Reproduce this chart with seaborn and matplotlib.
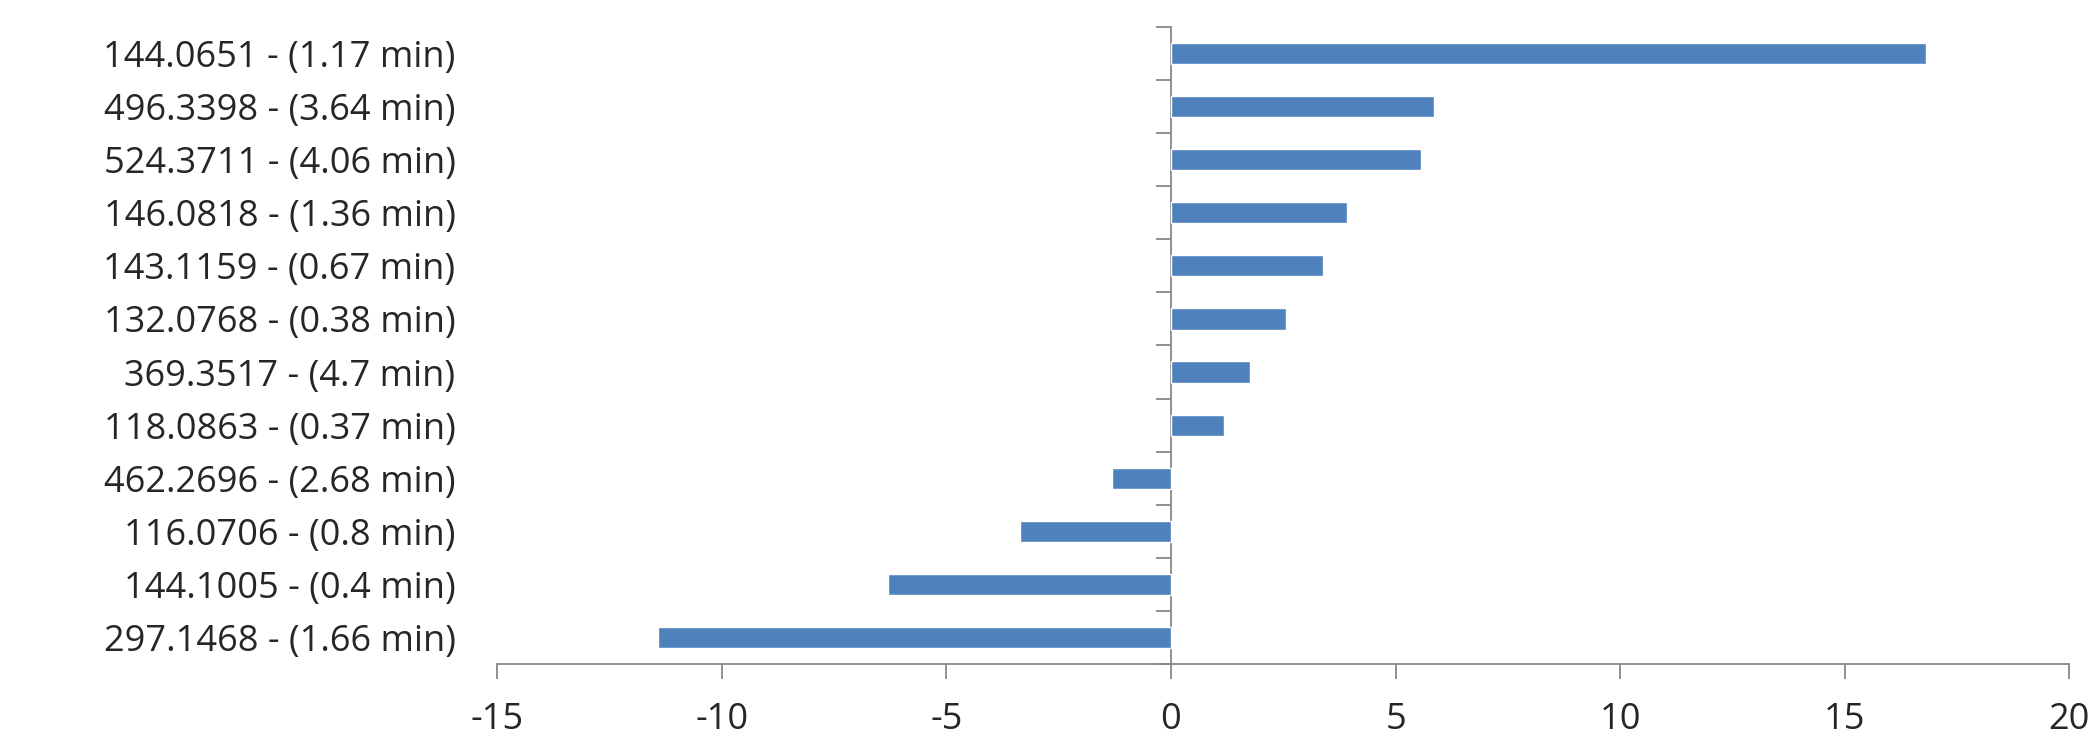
import numpy as np
import pandas as pd
import seaborn as sns
import matplotlib.pyplot as plt

LABELS = [
    "144.0651 - (1.17 min)",
    "496.3398 - (3.64 min)",
    "524.3711 - (4.06 min)",
    "146.0818 - (1.36 min)",
    "143.1159 - (0.67 min)",
    "132.0768 - (0.38 min)",
    "369.3517 - (4.7 min)",
    "118.0863 - (0.37 min)",
    "462.2696 - (2.68 min)",
    "116.0706 - (0.8 min)",
    "144.1005 - (0.4 min)",
    "297.1468 - (1.66 min)",
]
VALUES = [16.82, 5.86, 5.57, 3.93, 3.39, 2.56, 1.76, 1.19, -1.31, -3.36, -6.31, -11.43]
X_TICKS = [-15, -10, -5, 0, 5, 10, 15, 20]

sns.set_style("white")
plt.rcParams["font.family"] = ["Open Sans", "DejaVu Sans"]

df = pd.DataFrame({"label": LABELS, "value": VALUES})

W, H = 1568, 553
fig = plt.figure(figsize=(20.96, 7.39), dpi=100)
ax = fig.add_axes([372 / W, 1 - 497 / H, 1176 / W, 477 / H])
sns.barplot(data=df, x="value", y="label", orient="h", color="#4f81bd",
            width=0.4, saturation=1, ax=ax)

ax.set_xlim(X_TICKS[0], X_TICKS[-1])
ax.set_ylim(len(LABELS) - 0.5, -0.5)
ax.set_xticks(X_TICKS)
ax.set_xticklabels([str(t) for t in X_TICKS], fontsize=26)
ax.set_xlabel("")
ax.set_ylabel("")
ax.tick_params(axis="y", length=0, labelsize=26, pad=30)
ax.tick_params(axis="x", direction="out", length=11, width=1.3, color="#888888", bottom=True, pad=16)
for s in ["top", "right", "left"]:
    ax.spines[s].set_visible(False)
ax.spines["bottom"].set_color("#888888")
ax.spines["bottom"].set_linewidth(1.3)

# category axis crossing at x = 0
sec = ax.secondary_yaxis((0 - X_TICKS[0]) / (X_TICKS[-1] - X_TICKS[0]))
sec.set_yticks(np.arange(-0.5, len(LABELS), 1.0))
sec.set_yticklabels([])
sec.tick_params(axis="y", direction="out", length=11, width=1.3, color="#888888")
sec.spines["left"].set_color("#888888")
sec.spines["left"].set_linewidth(1.3)

fig.savefig("out.png", dpi=100)
